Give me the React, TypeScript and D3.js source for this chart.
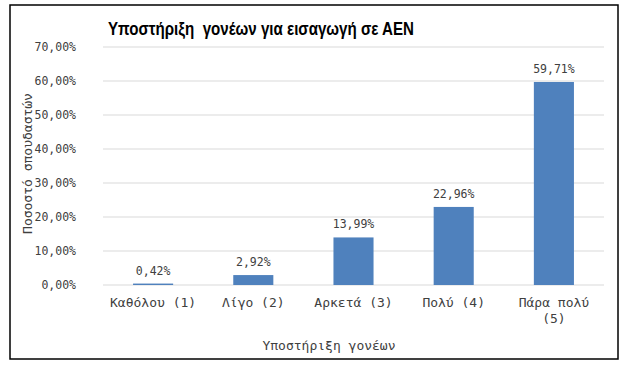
import React from "react";
import * as d3 from "d3";

const categories = ["Καθόλου (1)", "Λίγο (2)", "Αρκετά (3)", "Πολύ (4)", "Πάρα πολύ (5)"];
const categoryLines = [["Καθόλου (1)"], ["Λίγο (2)"], ["Αρκετά (3)"], ["Πολύ (4)"], ["Πάρα πολύ", "(5)"]];
const values = [0.42, 2.92, 13.99, 22.96, 59.71];
const yTicks = [0, 10, 20, 30, 40, 50, 60, 70];

const W = 627;
const H = 366;
const margin = { top: 47, right: 23, bottom: 81, left: 103 };
const mono = "'DejaVu Sans Mono', 'Liberation Mono', monospace";
const fmt = (v: number) => v.toFixed(2).replace(".", ",") + "%";

export default function App() {
  const innerW = W - margin.left - margin.right;
  const innerH = H - margin.top - margin.bottom;

  const x = d3
    .scaleBand<string>()
    .domain(categories)
    .range([0, innerW])
    .paddingInner(0.6)
    .paddingOuter(0.3);

  const y = d3.scaleLinear().domain([0, 70]).range([innerH, 0]);

  return (
    <svg
      width={W}
      height={H}
      style={{ position: "absolute", left: 0, top: 0, background: "#fff" }}
    >
      <rect x={0} y={0} width={W} height={H} fill="#fff" />
      <rect x={10} y={5} width={608} height={354} fill="none" stroke="#000" strokeWidth={1.5} />

      {/* Title */}
      <text
        x={108}
        y={35}
        textLength={306}
        lengthAdjust="spacingAndGlyphs"
        fontFamily="'Liberation Sans', Arial, sans-serif"
        fontWeight="bold"
        fontSize={17.5}
        fill="#000"
        style={{ whiteSpace: "pre" }}
      >
        Υποστήριξη  γονέων για εισαγωγή σε ΑΕΝ
      </text>

      <g transform={`translate(${margin.left}, ${margin.top})`}>
        {/* Grid + y labels */}
        {yTicks.map((t) => (
          <g key={t}>
            <line x1={0} x2={innerW} y1={y(t)} y2={y(t)} stroke="#d9d9d9" strokeWidth={1} />
            <text
              x={-27}
              y={y(t)}
              dy="0.35em"
              textAnchor="end"
              fontFamily={mono}
              fontSize={11.5}
              fill="#404040"
            >
              {fmt(t)}
            </text>
          </g>
        ))}

        {/* Bars */}
        {categories.map((c, i) => (
          <rect
            key={c}
            x={x(c)}
            y={y(values[i])}
            width={x.bandwidth()}
            height={innerH - y(values[i])}
            fill="#4f81bd"
          />
        ))}

        {/* Data labels */}
        {categories.map((c, i) => (
          <text
            key={`l-${c}`}
            x={(x(c) as number) + x.bandwidth() / 2}
            y={y(values[i]) - 9}
            textAnchor="middle"
            fontFamily={mono}
            fontSize={11.5}
            fill="#404040"
          >
            {fmt(values[i])}
          </text>
        ))}

        {/* Category labels */}
        {categories.map((c, i) => (
          <text
            key={`c-${c}`}
            x={(x(c) as number) + x.bandwidth() / 2}
            y={innerH + 22}
            textAnchor="middle"
            fontFamily={mono}
            fontSize={13}
            fill="#404040"
          >
            {categoryLines[i].map((ln, j) => (
              <tspan key={j} x={(x(c) as number) + x.bandwidth() / 2} dy={j === 0 ? 0 : 16}>
                {ln}
              </tspan>
            ))}
          </text>
        ))}

        {/* X axis title */}
        <text
          x={329 - margin.left}
          y={innerH + 65}
          textAnchor="middle"
          fontFamily={mono}
          fontSize={13}
          fill="#404040"
        >
          Υποστήριξη γονέων
        </text>

        {/* Y axis title */}
        <text
          transform="rotate(-90)"
          x={-(163.5 - margin.top)}
          y={-71}
          textAnchor="middle"
          fontFamily={mono}
          fontSize={13}
          fill="#404040"
        >
          Ποσοστό σπουδαστών
        </text>
      </g>
    </svg>
  );
}
